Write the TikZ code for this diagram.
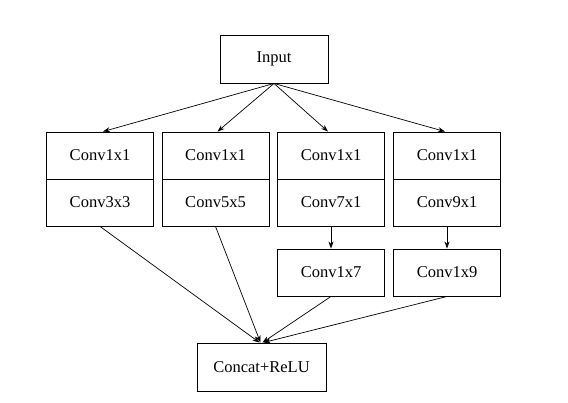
\documentclass[tikz,border=0pt]{standalone}
\usepackage{fontspec}
\setmainfont{Liberation Serif}
\usetikzlibrary{arrows.meta}
\begin{document}
\begin{tikzpicture}[x=1pt,y=-1pt,
  box/.style={draw, line width=0.9pt, minimum width=107pt, minimum height=47pt, inner sep=0pt, font=\fontsize{16.5}{20}\selectfont},
  conn/.style={draw, line width=0.7pt, -{Stealth[length=7pt,width=5pt]}}]
\useasboundingbox (0,0) rectangle (568,403);
\node[box, minimum width=108pt, minimum height=48pt] (in) at (274,59) {Input};
\node[box] (a1) at (100,155.5) {Conv1x1};
\node[box] (a2) at (100,202.5) {Conv3x3};
\node[box] (b1) at (215.5,155.5) {Conv1x1};
\node[box] (b2) at (215.5,202.5) {Conv5x5};
\node[box] (c1) at (331,155.5) {Conv1x1};
\node[box] (c2) at (331,202.5) {Conv7x1};
\node[box] (d1) at (447,155.5) {Conv1x1};
\node[box] (d2) at (447,202.5) {Conv9x1};
\node[box] (c3) at (331,272.5) {Conv1x7};
\node[box] (d3) at (447,272.5) {Conv1x9};
\node[box, minimum width=129pt, minimum height=48pt] (cat) at (261.5,367) {Concat+ReLU};
\foreach \t/\dx in {a1/3,b1/2,c1/-3,d1/-2}{
  \draw[conn] (in.south) -- ([xshift=\dx pt]\t.north);
}
\draw[conn] (c2.south) -- (c3.north);
\draw[conn] (d2.south) -- (d3.north);
\draw[conn] (a2.south) -- ([xshift=-2pt]cat.north);
\draw[conn] (b2.south) -- ([xshift=-1pt]cat.north);
\draw[conn] (c3.south) -- ([xshift=1pt]cat.north);
\draw[conn] (d3.south) -- ([xshift=2pt]cat.north);
\end{tikzpicture}
\end{document}
